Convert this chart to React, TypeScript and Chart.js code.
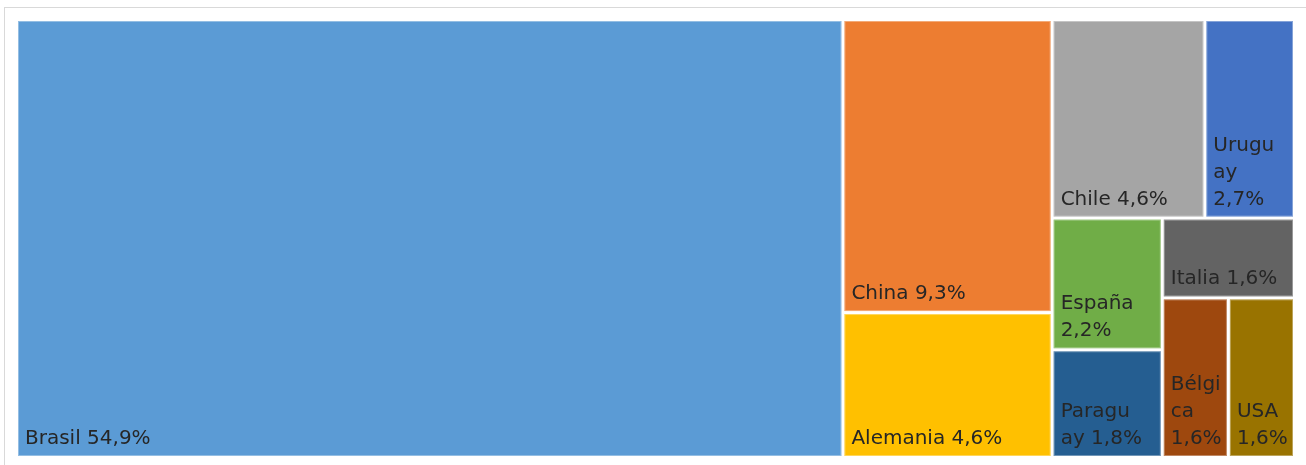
import React, { useEffect, useRef } from 'react';
import { Chart, registerables } from 'chart.js';

Chart.register(...registerables);

// ---- Data ----
const countries = ['Brasil', 'China', 'Alemania', 'Chile', 'Uruguay', 'España', 'Paraguay', 'Italia', 'Bélgica', 'USA'];
const shares = [54.9, 9.3, 4.6, 4.6, 2.7, 2.2, 1.8, 1.6, 1.6, 1.6];
const tileColors = ['#5B9BD5', '#ED7D31', '#FFC000', '#A5A5A5', '#4472C4', '#70AD47', '#255E91', '#636363', '#9E480E', '#997300'];
// how many consecutive tiles share one strip of the squarified layout
const stripSizes = [1, 2, 2, 2, 1, 2];
// character index where the label wraps inside the name, as in the reference (0 = none)
const nameBreaks = [0, 0, 0, 0, 5, 0, 6, 0, 5, 0];

const FONT = '20px "DejaVu Sans", sans-serif';
const TEXT_COLOR = '#262626';
const GAP = 3;
const LINE_H = 27;
const PAD_L = 7;
const PAD_R = 3;

type R = { x0: number; x1: number; y0: number; y1: number };

function sum(a: number[]) {
  return a.reduce((s, v) => s + v, 0);
}

// Squarified strip layout in data space (0..1 on both axes); pxW/pxH give pixel aspect
function layout(values: number[], strips: number[], pxW: number, pxH: number): R[] {
  const rects: R[] = [];
  let x = 0, y = 0, w = 1, h = 1;
  let remaining = sum(values);
  let i = 0;
  for (const g of strips) {
    const items = values.slice(i, i + g);
    const gs = sum(items);
    const frac = gs / remaining;
    if (w * pxW >= h * pxH) {
      const cw = w * frac;
      let cy = y;
      items.forEach((v) => {
        const ch = (h * v) / gs;
        rects.push({ x0: x, x1: x + cw, y0: cy, y1: cy + ch });
        cy += ch;
      });
      x += cw;
      w -= cw;
    } else {
      const rh = h * frac;
      let cx = x;
      items.forEach((v) => {
        const cw = (w * v) / gs;
        rects.push({ x0: cx, x1: cx + cw, y0: y, y1: y + rh });
        cx += cw;
      });
      y += rh;
      h -= rh;
    }
    remaining -= gs;
    i += g;
  }
  return rects;
}

function wrap(ctx: CanvasRenderingContext2D, text: string, avail: number): string[] {
  const words = text.split(' ');
  const lines: string[] = [];
  let cur = '';
  const fits = (s: string) => ctx.measureText(s).width <= avail;
  for (let word of words) {
    const cand = cur ? cur + ' ' + word : word;
    if (fits(cand)) {
      cur = cand;
      continue;
    }
    if (cur) {
      lines.push(cur);
      cur = '';
    }
    while (!fits(word) && word.length > 1) {
      let n = word.length - 1;
      while (n > 1 && !fits(word.slice(0, n))) n--;
      lines.push(word.slice(0, n));
      word = word.slice(n);
    }
    cur = word;
  }
  if (cur) lines.push(cur);
  return lines;
}

const fmt = (v: number) => v.toFixed(1).replace('.', ',') + '%';

function labelLines(ctx: CanvasRenderingContext2D, k: number, avail: number): string[] {
  const name = countries[k];
  const b = nameBreaks[k];
  const pct = fmt(shares[k]);
  if (b > 0) {
    return [name.slice(0, b), ...wrap(ctx, name.slice(b) + ' ' + pct, avail)];
  }
  return wrap(ctx, name + ' ' + pct, avail);
}

const treemapPlugin = {
  id: 'treemapTiles',
  beforeDraw(chart: any) {
    const ctx = chart.ctx as CanvasRenderingContext2D;
    ctx.save();
    ctx.fillStyle = '#ffffff';
    ctx.fillRect(0, 0, chart.width, chart.height);
    ctx.strokeStyle = '#d9d9d9';
    ctx.lineWidth = 1;
    ctx.strokeRect(4.5, 7.5, chart.width + 10, chart.height + 10);
    ctx.restore();
  },
  afterDatasetsDraw(chart: any) {
    const ctx = chart.ctx as CanvasRenderingContext2D;
    const xs = chart.scales.x;
    const ys = chart.scales.y;
    const pxW = Math.abs(xs.getPixelForValue(1) - xs.getPixelForValue(0));
    const pxH = Math.abs(ys.getPixelForValue(1) - ys.getPixelForValue(0));
    const rects = layout(shares, stripSizes, pxW, pxH);
    ctx.save();
    ctx.font = FONT;
    rects.forEach((r, k) => {
      const left = xs.getPixelForValue(r.x0) + GAP / 2;
      const right = xs.getPixelForValue(r.x1) - GAP / 2;
      const top = ys.getPixelForValue(r.y0) + GAP / 2;
      const bottom = ys.getPixelForValue(r.y1) - GAP / 2;
      ctx.fillStyle = tileColors[k];
      ctx.fillRect(left, top, right - left, bottom - top);
      ctx.strokeStyle = 'rgba(255,255,255,0.35)';
      ctx.lineWidth = 1;
      ctx.strokeRect(left + 0.5, top + 0.5, right - left - 1, bottom - top - 1);
      const lines = labelLines(ctx, k, right - left - PAD_L - PAD_R);
      ctx.fillStyle = TEXT_COLOR;
      ctx.textAlign = 'left';
      ctx.textBaseline = 'alphabetic';
      const baseY = bottom - 12;
      lines.forEach((ln, j) => {
        ctx.fillText(ln, left + PAD_L, baseY - (lines.length - 1 - j) * LINE_H);
      });
    });
    ctx.restore();
  },
};

export default function App() {
  const ref = useRef<HTMLCanvasElement | null>(null);
  useEffect(() => {
    if (!ref.current) return;
    const chart = new Chart(ref.current, {
      type: 'scatter',
      data: { datasets: [{ label: 'Participación', data: [] }] },
      options: {
        animation: false,
        responsive: true,
        maintainAspectRatio: false,
        layout: { padding: { left: 16.5, top: 19.5, right: 11.5, bottom: 7.5 } },
        scales: {
          x: { type: 'linear', min: 0, max: 1, display: false },
          y: { type: 'linear', min: 0, max: 1, reverse: true, display: false },
        },
        plugins: { legend: { display: false }, tooltip: { enabled: false } },
      },
      plugins: [treemapPlugin],
    });
    return () => chart.destroy();
  }, []);
  return (
    <div style={{ position: 'fixed', left: 0, top: 0, width: 1306, height: 465, background: '#fff' }}>
      <canvas ref={ref} />
    </div>
  );
}
